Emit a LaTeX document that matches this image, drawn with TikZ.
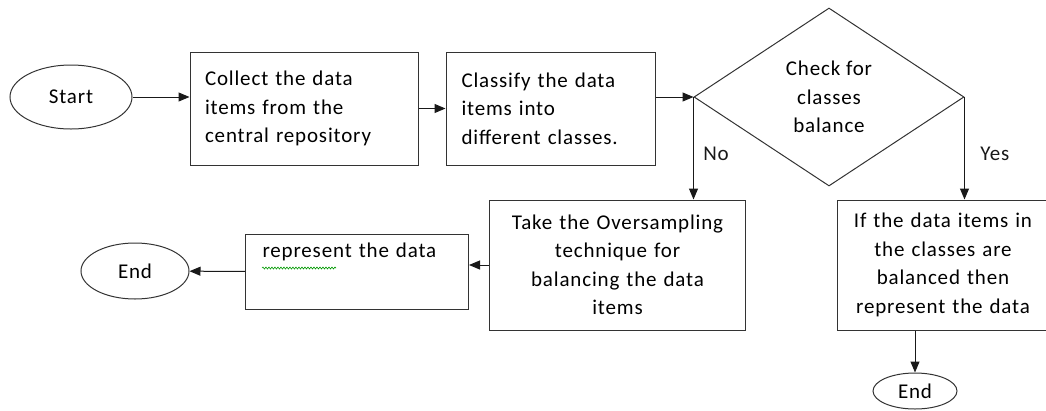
\documentclass[tikz,border=0pt]{standalone}
\usepackage{fontspec}
\setmainfont{Carlito}[LetterSpace=4]
\usetikzlibrary{shapes.geometric, arrows.meta, positioning, calc, decorations.pathmorphing}

\begin{document}
\begin{tikzpicture}[
    x=1pt, y=-1pt,
    font=\fontsize{21}{28.5}\selectfont,
    pbox/.style={rectangle, draw=black!80, line width=1pt, inner sep=8pt},
    oval/.style={ellipse, draw=black!80, line width=1pt, inner sep=0pt},
    dec/.style={diamond, draw=black!80, line width=1pt, inner sep=0pt, align=center},
    arr/.style={-{Triangle[length=11pt,width=9pt]}, line width=1pt, color=black!90}
]
\useasboundingbox (0,0) rectangle (1046,410);

% Nodes
\node[oval, minimum width=122pt, minimum height=64pt] (start) at (71,97) {Start};
\node[pbox, minimum width=228pt, minimum height=113pt, text width=198pt, align=left] (collect) at (304,108.5) {Collect the data\\items from the\\central repository};
\node[pbox, minimum width=209pt, minimum height=113pt, text width=178pt, align=left] (classify) at (550.5,108.5) {Classify the data\\items into\\different classes.};
\node[dec, minimum width=270pt, minimum height=178pt] (check) at (829,97) {Check for\\classes\\balance};

% Lower row
\node[pbox, minimum width=255pt, minimum height=130pt, text width=240pt, align=center] (oversample) at (617.5,265) {Take the Oversampling\\technique for\\balancing the data\\items};
\node[pbox, minimum width=204pt, minimum height=130pt, text width=195pt, align=center] (balanced) at (943,265) {If the data items in\\the classes are\\balanced then\\represent the data};
\node[pbox, anchor=north west, minimum width=223pt, text width=189pt, text depth=44pt, align=left] (represent) at (245,234) {represent the data};
\node[oval, minimum width=108pt, minimum height=56pt] (endA) at (135,271) {End};
\node[oval, minimum width=84pt, minimum height=36pt] (endB) at (915,391) {End};

% spell-check mark
\draw[green!60!black, line width=0.6pt, decorate, decoration={snake, amplitude=1pt, segment length=3pt}] ($(represent.north west)+(17,34)$) -- ++(74,0);

% Transitions
\draw[arr] (start.east) -- (start.east -| collect.west);
\draw[arr] (collect) -- (classify);
\draw[arr] (classify.east |- check.west) -- (check.west);
\draw[arr] (check.west) -- node[right=6pt, pos=0.55] {No} (check.west |- oversample.north);
\draw[arr] (check.east) -- node[right=12pt, pos=0.55] {Yes} (check.east |- balanced.north);
\draw[arr] (oversample.west) -- (oversample.west -| represent.east);
\draw[arr] (represent) -- (endA);
\draw[arr] (balanced.south -| endB) -- (endB);

\end{tikzpicture}
\end{document}
